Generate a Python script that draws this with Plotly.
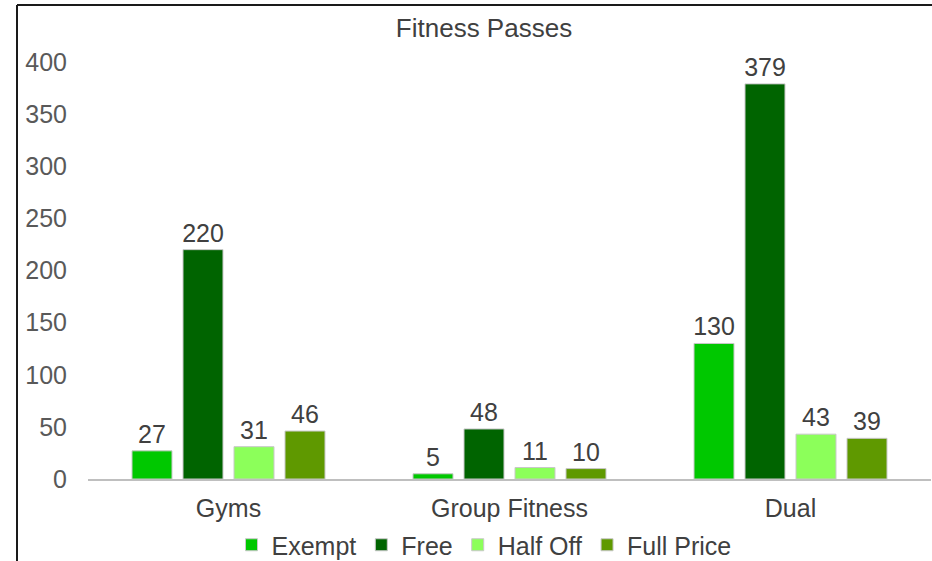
import plotly.graph_objects as go

categories = ["Gyms", "Group Fitness", "Dual"]
series_names = ["Exempt", "Free", "Half Off", "Full Price"]
exempt = [27, 5, 130]
free = [220, 48, 379]
half_off = [31, 11, 43]
full_price = [46, 10, 39]
colors = ["#00C800", "#006400", "#8CFF5A", "#5F9900"]
y_ticks = [0, 50, 100, 150, 200, 250, 300, 350, 400]

W, H = 932, 561
L, R, T, B = 88, 1, 62, 82
FONT = "Arial, Liberation Sans, sans-serif"
FS = 25

fig = go.Figure()
for name, vals, col in zip(series_names, [exempt, free, half_off, full_price], colors):
    fig.add_trace(go.Bar(
        x=categories, y=vals, name=name,
        marker=dict(color=col, line=dict(color="#C8C8C8", width=1)),
        text=[str(v) for v in vals], textposition="outside",
        textfont=dict(size=FS, color="#404040", family=FONT),
        cliponaxis=False, constraintext="none",
    ))

pw = W - L - R
ph = H - T - B
def px_x(p):
    return (p - L) / pw
def px_y(p):
    return (H - B - p) / ph

fig.update_layout(
    width=W, height=H,
    margin=dict(l=L, r=R, t=T, b=B, autoexpand=False),
    paper_bgcolor="white", plot_bgcolor="white",
    barmode="group", bargap=0.274, bargroupgap=0.216,
    font=dict(family=FONT, color="#595959", size=FS),
    title=dict(text="Fitness Passes", x=484 / W, xanchor="center", xref="container",
               y=1 - 28 / H, yanchor="middle", yref="container",
               font=dict(size=26, color="#404040", family=FONT)),
    showlegend=True,
    legend=dict(orientation="h", xref="container", yref="container",
                x=484 / W, xanchor="center", y=1 - 545 / H, yanchor="middle",
                font=dict(size=FS, color="#404040", family=FONT),
                itemwidth=30, traceorder="normal", tracegroupgap=0),
    xaxis=dict(showline=True, linecolor="#BFBFBF", linewidth=1.5, showgrid=False,
               ticks="", tickfont=dict(size=FS, color="#404040"), ticklabelstandoff=6),
    yaxis=dict(range=[0, 400], tickvals=y_ticks, showgrid=False, zeroline=False,
               showline=False, ticks="", tickfont=dict(size=FS, color="#595959"),
               ticklabelstandoff=20),
    shapes=[
        dict(type="line", xref="paper", yref="paper", x0=px_x(17), x1=px_x(932), y0=px_y(5), y1=px_y(5),
             line=dict(color="#1a1a1a", width=2)),
        dict(type="line", xref="paper", yref="paper", x0=px_x(17), x1=px_x(17), y0=px_y(5), y1=px_y(561),
             line=dict(color="#1a1a1a", width=2)),
    ],
)

fig.write_html("out.html")
